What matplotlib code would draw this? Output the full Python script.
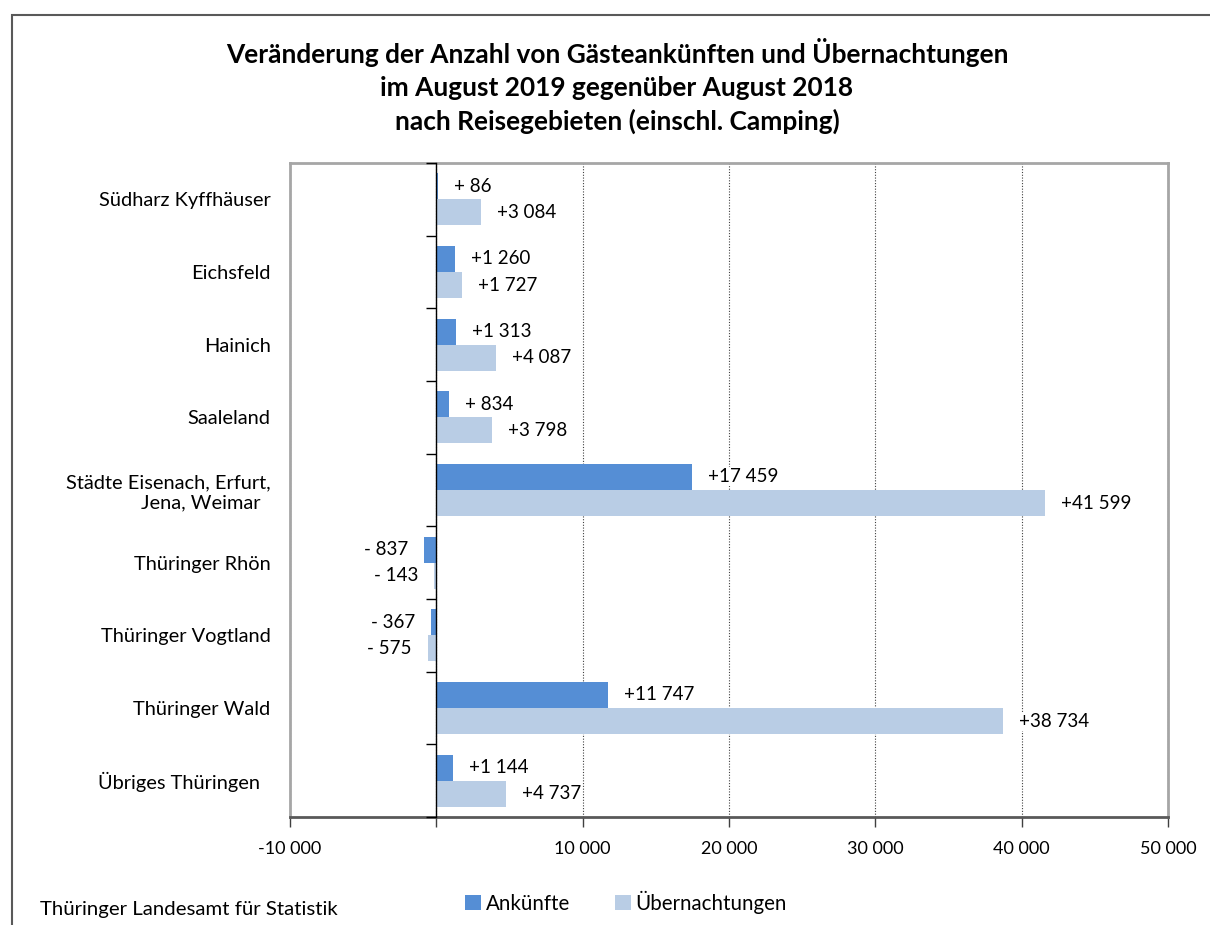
import numpy as np
import matplotlib
matplotlib.use("Agg")
import matplotlib.pyplot as plt
from matplotlib.patches import Rectangle

plt.rcParams['font.family'] = ['Lato', 'DejaVu Sans']

# ---- Daten ----
regions = ["Südharz Kyffhäuser", "Eichsfeld", "Hainich", "Saaleland",
           "Städte Eisenach, Erfurt,\nJena, Weimar  ", "Thüringer Rhön",
           "Thüringer Vogtland", "Thüringer Wald", "Übriges Thüringen  "]
ankuenfte = [86, 1260, 1313, 834, 17459, -837, -367, 11747, 1144]
uebernachtungen = [3084, 1727, 4087, 3798, 41599, -143, -575, 38734, 4737]
x_ticks = [-10000, 0, 10000, 20000, 30000, 40000, 50000]
x_ticklabels = ["-10 000", "", "10 000", "20 000", "30 000", "40 000", "50 000"]

title = ("Veränderung der Anzahl von Gästeankünften und Übernachtungen\n"
         "im August 2019 gegenüber August 2018\n"
         "nach Reisegebieten (einschl. Camping)")

c_ank = "#558ED5"
c_ueb = "#B9CDE5"


def fmt(v):
    """Excel-Format '+# ##0' nachbauen"""
    sign = "+" if v >= 0 else "-"
    a = abs(v)
    if a < 1000:
        return f"{sign} {a}"
    return sign + f"{a:,}".replace(",", " ")


fig = plt.figure(figsize=(12.1, 9.25), dpi=100)
ax = fig.add_axes([290 / 1210, 1 - 817 / 925, 878 / 1210, 654 / 925])

y = np.arange(len(regions))
h = 0.36
b1 = ax.barh(y - h / 2, ankuenfte, height=h, color=c_ank, zorder=3)
b2 = ax.barh(y + h / 2, uebernachtungen, height=h, color=c_ueb, zorder=3)

for bars, vals in ((b1, ankuenfte), (b2, uebernachtungen)):
    for bar, v in zip(bars, vals):
        yc = bar.get_y() + bar.get_height() / 2
        off = 16 if v >= 0 else -16
        ax.annotate(fmt(v), (v, yc), xytext=(off, 0), textcoords="offset pixels",
                    ha="left" if v >= 0 else "right", va="center",
                    fontsize=13.5, zorder=5,
                    bbox=dict(boxstyle="square,pad=0.05", fc="white", ec="none"))

ax.set_xlim(-10000, 50000)
ax.set_ylim(len(regions) - 0.5, -0.5)
ax.set_xticks(x_ticks, labels=x_ticklabels, fontsize=13)
ax.tick_params(axis="x", direction="out", length=7, width=1, color="#404040", pad=10)
ax.set_yticks(y, labels=regions, fontsize=14.4)
ax.tick_params(axis="y", length=0, pad=14)
for lab in ax.get_yticklabels():
    lab.set_horizontalalignment("right")

ax.xaxis.grid(True, color="#404040", linestyle=(0, (1, 1.5)), linewidth=0.8, zorder=0)
ax.set_axisbelow(True)

for s in ax.spines.values():
    s.set_color("#A6A6A6")
    s.set_linewidth(2)
ax.spines["bottom"].set_color("#595959")

# senkrechte Achse bei 0 mit Teilstrichen zwischen den Kategorien
sec = ax.secondary_yaxis(1 / 6)
sec.set_yticks(np.arange(-0.5, len(regions), 1), labels=[])
sec.tick_params(direction="out", length=7, width=1, color="black")
sec.spines["left"].set_color("black")
sec.spines["left"].set_linewidth(1)
sec.set_zorder(4)

fig.text(617 / 1210, 1 - 86 / 925, title, ha="center", va="center", fontsize=18.9,
         fontweight="bold", linespacing=1.45)

ax.legend([b1, b2], ["Ankünfte", "Übernachtungen"], loc="center",
          bbox_to_anchor=(626 / 1210, 1 - 902 / 925), bbox_transform=fig.transFigure,
          ncol=2, frameon=False, fontsize=14.8, handlelength=0.8, handleheight=0.8,
          handletextpad=0.2, columnspacing=2.2)

fig.text(40 / 1210, 1 - 909 / 925, "Thüringer Landesamt für Statistik",
         ha="left", va="center", fontsize=14.7)

# Rahmen um das Diagramm (oben und links sichtbar)
fig.patches.append(Rectangle((12 / 1210, -0.1), 1.1, 1 - 15 / 925 + 0.1,
                             transform=fig.transFigure, fill=False,
                             edgecolor="#595959", linewidth=1.5))

fig.savefig("out.png", dpi=100)
